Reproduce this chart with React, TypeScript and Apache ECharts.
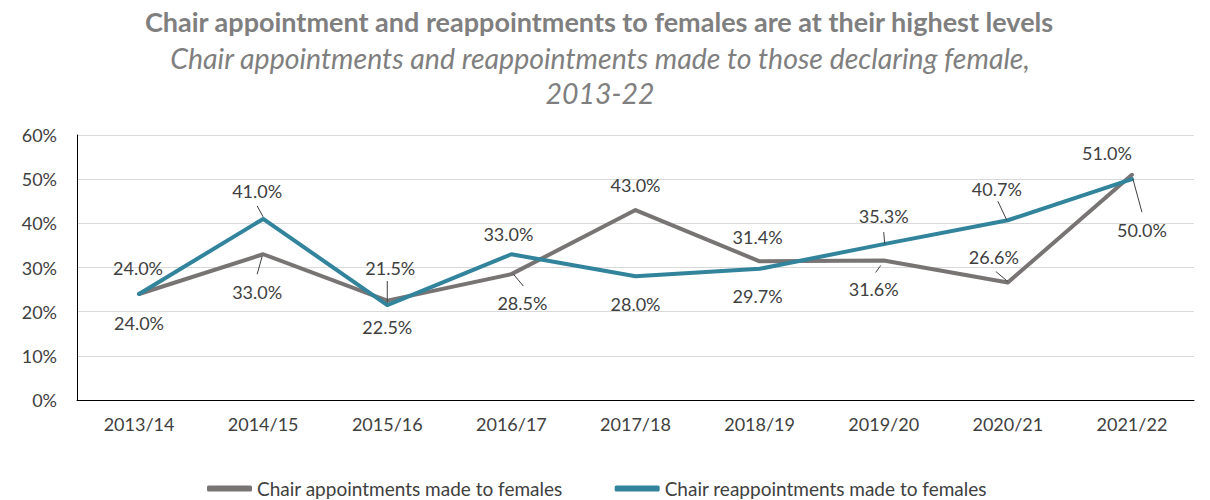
import React, { useEffect, useRef } from "react";
import * as echarts from "echarts";

const categories = ["2013/14", "2014/15", "2015/16", "2016/17", "2017/18", "2018/19", "2019/20", "2020/21", "2021/22"];
const appointments = [24.0, 33.0, 22.5, 28.5, 43.0, 31.4, 31.6, 26.6, 51.0];
const reappointments = [24.0, 41.0, 21.5, 33.0, 28.0, 29.7, 35.3, 40.7, 50.0];
const seriesNames = ["Chair appointments made to females", "Chair reappointments made to females"];
const seriesColors = ["#787474", "#31849B"];
const yMin = 0;
const yMax = 60;
const yInterval = 10;

const titleText = "Chair appointment and reappointments to females are at their highest levels";
const subtitleText = "Chair appointments and reappointments made to those declaring female,\n2013-22";

// label centre offsets (px) relative to each point
const apptLabelOffsets = [[0, 29], [-6, 38], [0, 26], [11, 29], [0, -25], [-2, -24], [-10, 29], [-14, -26], [-25, -22]];
const reapLabelOffsets = [[-1, -26], [-6, -28], [3, -37], [-3, -20], [0, 28], [-2, 27], [0, -28], [-11, -31], [10, 51]];

// leader lines: series index, data index, start & end offsets (px) from the point
const leaders = [
  { s: 1, i: 1, from: [-6, -13], to: [0, -2] },
  { s: 0, i: 1, from: [-6, 20], to: [-1, 2] },
  { s: 1, i: 2, from: [0, -24], to: [0, -2] },
  { s: 0, i: 3, from: [2, 0], to: [12, 12] },
  { s: 1, i: 6, from: [0, -12], to: [1, 0] },
  { s: 0, i: 6, from: [-3, 5], to: [-8, 12] },
  { s: 1, i: 7, from: [-10, -19], to: [-1, 0] },
  { s: 0, i: 7, from: [-12, -11], to: [0, -1] },
  { s: 1, i: 8, from: [1, 0], to: [10, 33] },
];

const FONT = "Lato";
const TEXT_COLOR = "#404040";

export default function App() {
  const ref = useRef<HTMLDivElement>(null);

  useEffect(() => {
    if (!ref.current) return;
    const chart = echarts.init(ref.current, undefined, { renderer: "svg" });

    const makeSeries = (idx: number, values: number[], offsets: number[][]) => ({
      name: seriesNames[idx],
      type: "line",
      data: values.map((v, i) => ({ value: v, label: { offset: offsets[i] } })),
      symbol: "circle",
      symbolSize: 2,
      itemStyle: { color: seriesColors[idx] },
      lineStyle: { color: seriesColors[idx], width: 4, cap: "round", join: "round" },
      label: {
        show: true,
        position: "inside",
        fontFamily: FONT,
        fontSize: 18,
        color: TEXT_COLOR,
        formatter: (p: any) => Number(p.value).toFixed(1) + "%",
      },
      emphasis: { disabled: true },
      z: 2 + idx,
    });

    chart.setOption({
      animation: false,
      backgroundColor: "#ffffff",
      textStyle: { fontFamily: FONT },
      title: [
        {
          text: titleText,
          left: 594,
          top: 3,
          textAlign: "center",
          textStyle: { fontFamily: FONT, fontWeight: "bold", fontSize: 27, color: "#7f7f7f" },
        },
        {
          text: subtitleText,
          left: 595,
          top: 35,
          textAlign: "center",
          textStyle: { fontFamily: FONT, fontStyle: "italic", fontWeight: "normal", fontSize: 28.5, color: "#7f7f7f", lineHeight: 35 },
        },
      ],
      grid: { left: 77, right: 16, top: 135, bottom: 100, containLabel: false },
      xAxis: {
        type: "category",
        data: categories,
        boundaryGap: true,
        axisLine: { show: true, lineStyle: { color: "#000000", width: 1 } },
        axisTick: { show: false },
        axisLabel: { fontFamily: FONT, fontSize: 18, color: TEXT_COLOR, margin: 15 },
      },
      yAxis: {
        type: "value",
        min: yMin,
        max: yMax,
        interval: yInterval,
        axisLine: { show: true, lineStyle: { color: "#000000", width: 1 } },
        axisTick: { show: false },
        axisLabel: { fontFamily: FONT, fontSize: 18, color: TEXT_COLOR, margin: 20, formatter: "{value}%" },
        splitLine: { lineStyle: { color: "#d9d9d9", width: 1 } },
      },
      legend: {
        left: 202,
        top: 474,
        itemWidth: 45,
        itemHeight: 6,
        itemGap: 52,
        icon: "roundRect",
        textStyle: { fontFamily: FONT, fontSize: 19, color: TEXT_COLOR },
        data: seriesNames,
      },
      series: [makeSeries(0, appointments, apptLabelOffsets), makeSeries(1, reappointments, reapLabelOffsets)],
    });

    const seriesData = [appointments, reappointments];
    const graphics = leaders.map((l) => {
      const p = chart.convertToPixel({ seriesIndex: l.s }, [l.i, seriesData[l.s][l.i]]) as number[];
      return {
        type: "line",
        shape: { x1: p[0] + l.from[0], y1: p[1] + l.from[1], x2: p[0] + l.to[0], y2: p[1] + l.to[1] },
        style: { stroke: "#404040", lineWidth: 1 },
        z: 10,
      };
    });
    chart.setOption({ graphic: graphics });

    return () => chart.dispose();
  }, []);

  return <div ref={ref} style={{ position: "fixed", left: 0, top: 0, width: 1210, height: 500 }} />;
}
